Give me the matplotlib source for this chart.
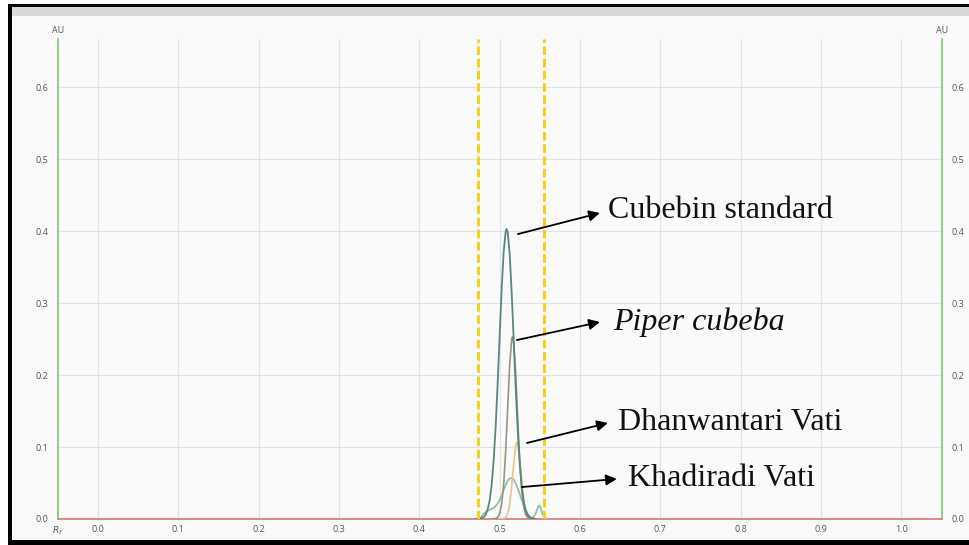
import matplotlib
matplotlib.use("Agg")
import matplotlib.pyplot as plt
from matplotlib.patches import Rectangle

# ---------------- data ----------------
x_ticks = [0.0, 0.1, 0.2, 0.3, 0.4, 0.5, 0.6, 0.7, 0.8, 0.9, 1.0]
y_ticks = [0.0, 0.1, 0.2, 0.3, 0.4, 0.5, 0.6]
band_limits = [0.4734, 0.5555]

labels = ["Cubebin standard", "Piper cubeba", "Dhanwantari Vati", "Khadiradi Vati"]

cubebin_x = [0.470, 0.4775, 0.4800, 0.4825, 0.4850, 0.4875, 0.4900, 0.4925, 0.4950, 0.4975,
             0.5000, 0.5025, 0.5050, 0.5075, 0.5087, 0.5100, 0.5125, 0.5150, 0.5175, 0.5200,
             0.5225, 0.5250, 0.5275, 0.5300, 0.5325, 0.5350, 0.5375, 0.5400, 0.545]
cubebin_y = [0.000, 0.001, 0.0025, 0.0058, 0.0125, 0.025, 0.046, 0.080, 0.126, 0.186,
             0.253, 0.318, 0.370, 0.399, 0.403, 0.399, 0.369, 0.315, 0.250, 0.183,
             0.124, 0.078, 0.045, 0.024, 0.012, 0.0056, 0.0024, 0.001, 0.000]

piper_x = [0.490, 0.4950, 0.4975, 0.5000, 0.5025, 0.5050, 0.5075, 0.5100, 0.5125, 0.5150,
           0.5160, 0.5175, 0.5200, 0.5225, 0.5250, 0.5275, 0.5300, 0.5325, 0.5350, 0.5375, 0.542]
piper_y = [0.000, 0.0006, 0.0022, 0.0072, 0.020, 0.047, 0.093, 0.153, 0.213, 0.249,
           0.253, 0.245, 0.203, 0.141, 0.082, 0.040, 0.017, 0.0058, 0.0017, 0.0004, 0.000]

dhan_x = [0.498, 0.5050, 0.5075, 0.5100, 0.5125, 0.5150, 0.5175, 0.5200, 0.5216, 0.5225,
          0.5250, 0.5275, 0.5300, 0.5325, 0.5350, 0.5375, 0.5400]
dhan_y = [0.000, 0.0004, 0.002, 0.0073, 0.020, 0.045, 0.076, 0.102, 0.107, 0.105,
          0.085, 0.053, 0.026, 0.010, 0.003, 0.0007, 0.000]

khad_x = [0.470, 0.474, 0.477, 0.480, 0.484, 0.488, 0.492, 0.496, 0.500, 0.503,
          0.506, 0.509, 0.512, 0.515, 0.518, 0.521, 0.524, 0.527, 0.530, 0.533,
          0.536, 0.539, 0.542, 0.545, 0.548, 0.549, 0.551, 0.553, 0.556, 0.560]
khad_y = [0.000, 0.0005, 0.003, 0.007, 0.011, 0.013, 0.015, 0.019, 0.026, 0.034,
          0.043, 0.051, 0.056, 0.057, 0.054, 0.047, 0.038, 0.028, 0.019, 0.011,
          0.005, 0.002, 0.002, 0.008, 0.017, 0.019, 0.016, 0.008, 0.002, 0.000]

# ---------------- figure ----------------
W, H = 969, 545
fig = plt.figure(figsize=(W / 100, H / 100), dpi=100, facecolor="white")

def px_rect(x0, y0, x1, y1, color, z=0):
    fig.add_artist(Rectangle((x0 / W, 1 - y1 / H), (x1 - x0) / W, (y1 - y0) / H,
                             transform=fig.transFigure, facecolor=color,
                             edgecolor="none", zorder=z))

# panel background, grey band and black frame
px_rect(12, 6, 969, 540, "#f9f9f9", z=-10)
px_rect(12, 7, 969, 16, "#d9d9d9", z=-9)
px_rect(8, 4, 12, 545, "black", z=5)
px_rect(8, 4, 969, 7, "black", z=5)
px_rect(8, 540, 969, 545, "black", z=5)

ax = fig.add_axes([58 / W, 1 - 519 / H, (942 - 58) / W, (519 - 39) / H])
ax.set_facecolor("#fafafa")
ax.set_xlim(-0.0495, 1.0505)
ax.set_ylim(0, 0.6667)

ax.set_xticks(x_ticks)
ax.set_xticklabels([f"{v:.1f}" for v in x_ticks])
ax.set_yticks(y_ticks)
ax.set_yticklabels([f"{v:.1f}" for v in y_ticks])
ax.tick_params(axis="both", length=0, labelsize=6.5, labelcolor="#555555")
ax.tick_params(axis="y", pad=7, labelright=True)
ax.tick_params(axis="x", pad=4)
for lab in ax.get_xticklabels() + ax.get_yticklabels():
    lab.set_fontfamily("Open Sans")

ax.grid(True, color="#dde3ea", linewidth=0.8)
ax.set_axisbelow(True)

ax.spines["top"].set_visible(False)
ax.spines["left"].set_color("#7fcf7f")
ax.spines["right"].set_color("#7fcf7f")
ax.spines["bottom"].set_color("#d98080")
for s in ("left", "right", "bottom"):
    ax.spines[s].set_linewidth(1.3)

# curves
ax.plot(khad_x, khad_y, color="#84c2a3", lw=1.2, zorder=3)
ax.plot(dhan_x, dhan_y, color="#e2c595", lw=1.2, zorder=3)
ax.plot(piper_x, piper_y, color="#96967c", lw=1.2, zorder=3)
ax.plot(cubebin_x, cubebin_y, color="#5a8581", lw=1.3, zorder=3)

# yellow dashed band
for xv in band_limits:
    ax.axvline(xv, color="#f4d21c", lw=2.2, dashes=(2.8, 1.2), zorder=4)

# axis captions
ax.text(-0.0495, 0.678, "AU", fontsize=6.5, color="#555555", ha="center", va="center",
        fontfamily="Open Sans")
ax.text(1.0505, 0.678, "AU", fontsize=6.5, color="#555555", ha="center", va="center",
        fontfamily="Open Sans")
ax.text(-0.05, -0.016, r"$R_f$", fontsize=6.5, color="#555555", ha="center", va="center",
        style="italic")

# annotations: (arrow start, arrow head, text position, italic)
ann = [((0.5228, 0.3958), (0.6248, 0.4250), (0.6348, 0.4278), False),
       ((0.5216, 0.2486), (0.6248, 0.2736), (0.6409, 0.2736), True),
       ((0.5340, 0.1056), (0.6347, 0.1333), (0.6471, 0.1347), False),
       ((0.5278, 0.0444), (0.6459, 0.0556), (0.6596, 0.0556), False)]
for name, (p0, p1, pt, ital) in zip(labels, ann):
    ax.annotate("", xy=p1, xytext=p0,
                arrowprops=dict(arrowstyle="-|>", color="black", lw=1.3,
                                mutation_scale=16, shrinkA=0, shrinkB=0),
                zorder=6)
    ax.text(pt[0], pt[1], name, fontsize=23, fontfamily="Liberation Serif",
            style="italic" if ital else "normal", ha="left", va="center", color="#111111",
            zorder=6)

fig.savefig("out.png", dpi=100, facecolor=fig.get_facecolor())
